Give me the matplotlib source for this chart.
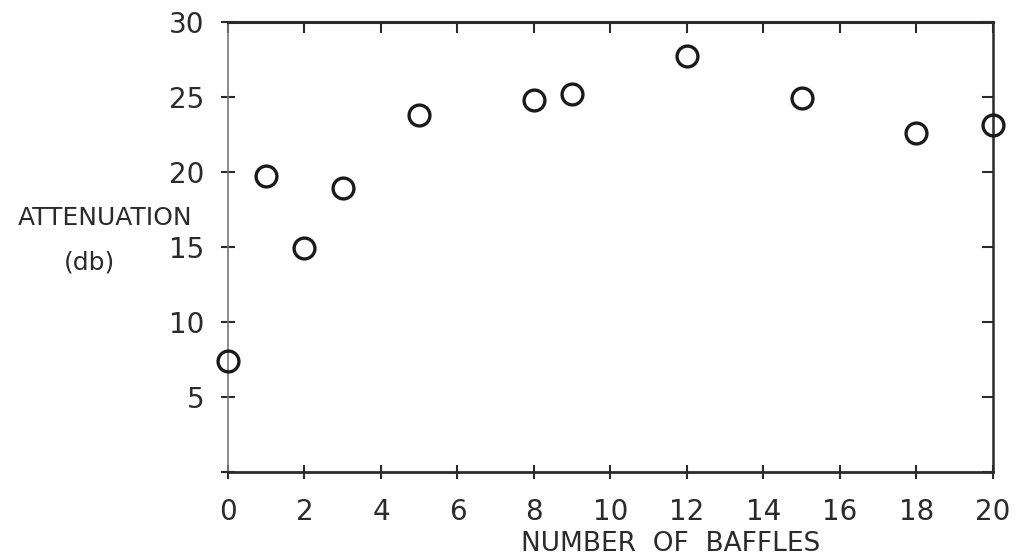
import matplotlib
matplotlib.use('Agg')
import matplotlib.pyplot as plt

# data
baffles = [0, 1, 2, 3, 5, 8, 9, 12, 15, 18, 20]
attenuation = [7.4, 19.7, 14.9, 18.9, 23.8, 24.8, 25.2, 27.7, 24.9, 22.6, 23.1]
x_ticks = [0, 2, 4, 6, 8, 10, 12, 14, 16, 18, 20]
y_ticks = [0, 5, 10, 15, 20, 25, 30]
y_tick_labels = ['', '5', '10', '15', '20', '25', '30']

ink = '#2b2b2b'
plt.rcParams['font.family'] = ['DejaVu Sans']

fig = plt.figure(figsize=(10.2, 5.59), dpi=100)
ax = fig.add_axes([0.2235, 0.156, 0.75, 0.805])

ax.plot(baffles, attenuation, linestyle='none', marker='o', markersize=15,
        markerfacecolor='none', markeredgecolor='#1a1a1a', markeredgewidth=2.4,
        clip_on=False, zorder=5)

ax.set_xlim(0, 20)
ax.set_ylim(0, 30)
ax.set_xticks(x_ticks)
ax.set_yticks(y_ticks)
ax.set_yticklabels(y_tick_labels)

ax.tick_params(axis='both', which='both', labelsize=20, colors=ink,
               width=1.5, length=10, direction='inout')
ax.tick_params(axis='x', pad=14)
ax.tick_params(axis='y', pad=12)
ax.tick_params(top=True, right=True, labeltop=False, labelright=False)
# top and right ticks point inward
for t in ax.xaxis.get_major_ticks():
    t.tick2line.set_marker(3)
    t.tick2line.set_markersize(8)
for t in ax.yaxis.get_major_ticks():
    t.tick2line.set_marker(0)
    t.tick2line.set_markersize(8)

for side in ['left', 'right', 'top', 'bottom']:
    ax.spines[side].set_color(ink)
ax.spines['left'].set_linewidth(1.2)
ax.spines['left'].set_color('#777777')
ax.spines['right'].set_linewidth(1.8)
ax.spines['top'].set_linewidth(2.2)
ax.spines['bottom'].set_linewidth(2.0)

fig.text(0.657, 0.026, 'NUMBER  OF  BAFFLES', fontsize=19, color=ink,
         ha='center', va='center')
fig.text(0.103, 0.61, 'ATTENUATION', fontsize=18, color=ink,
         ha='center', va='center')
fig.text(0.088, 0.53, '(db)', fontsize=18, color=ink,
         ha='center', va='center')

fig.savefig('out.png', dpi=100, facecolor='white')
